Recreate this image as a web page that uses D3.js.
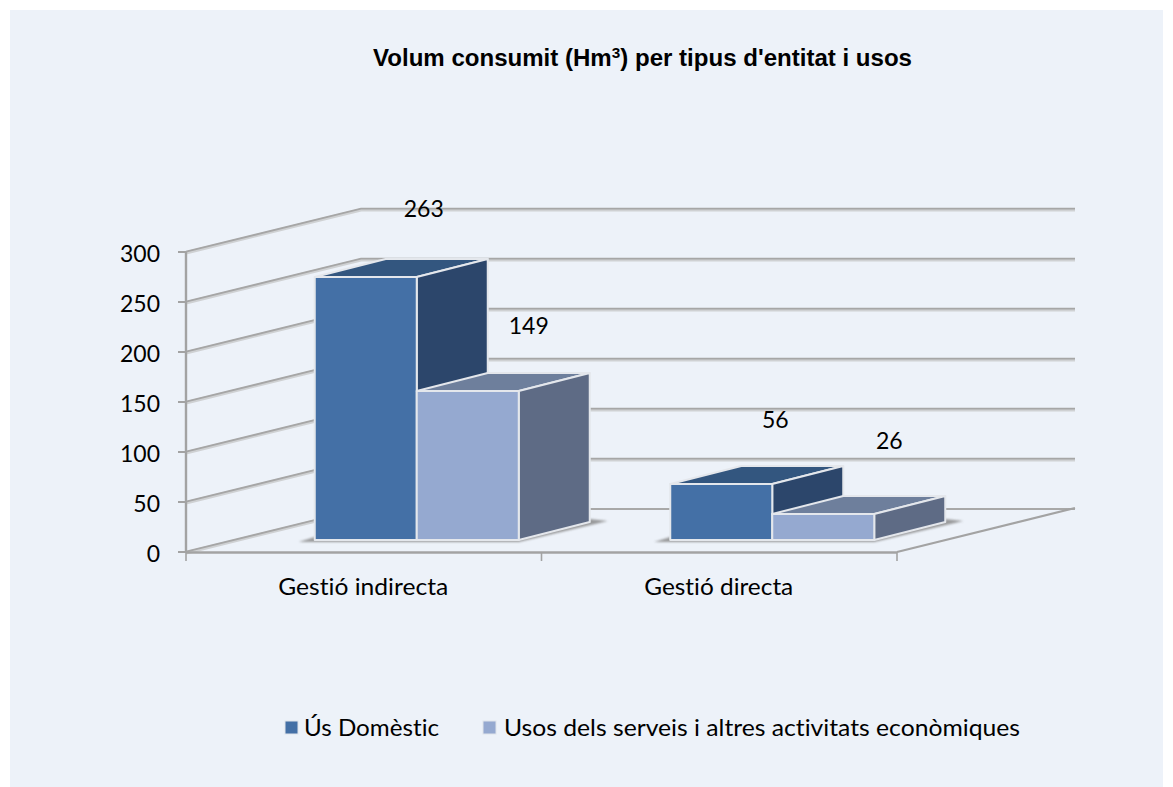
<!DOCTYPE html>
<html><head><meta charset="utf-8">
<style>html,body{margin:0;padding:0;background:#fff}svg{display:block}text{font-variant-ligatures:none}</style>
<script src="https://cdn.jsdelivr.net/npm/d3@7"></script></head>
<body><svg id="c" width="1173" height="787"></svg>
<script>
const categories = ["Gestió indirecta", "Gestió directa"];
const seriesNames = ["Ús Domèstic", "Usos dels serveis i altres activitats econòmiques"];
const usDomestic = [263, 56];
const usosServeis = [149, 26];
const yTicks = [0, 50, 100, 150, 200, 250, 300];

const bodyFont = "Lato, 'Open Sans', sans-serif";
const svg = d3.select("#c");
svg.append("rect").attr("x",10).attr("y",10).attr("width",1153).attr("height",777).attr("fill","#edf2f9");

const x0 = 186, x1 = 897, y0 = 552, y1 = 252;
const floorDX = 178, floorDY = -44, sideDX = 175, sideDY = -43;
const y = d3.scaleLinear().domain([0,300]).range([y0,y1]);
const x = d3.scaleBand().domain(categories).range([x0,x1]);
const barFront = {dx: 53, dy: -12};
const barDepth = {dx: 71, dy: -18};
const barW = 102;

// walls: grid lines
const gridG = svg.append("g").attr("fill","none");
yTicks.forEach(t=>{
  const pts = t===0
    ? `${x0},${y(t)} ${x0+sideDX},${y(t)+sideDY}`
    : `${x0},${y(t)} ${x0+sideDX},${y(t)+sideDY} ${x1+floorDX},${y(t)+sideDY}`;
  gridG.append("polyline").attr("points",pts).attr("stroke","#cfd1d3").attr("stroke-width",3.2).attr("transform","translate(0,0.9)");
  gridG.append("polyline").attr("points",pts).attr("stroke","#a6a6a6").attr("stroke-width",1.8).attr("transform","translate(0,-0.3)");
});
gridG.append("line").attr("x1",x0+sideDX).attr("x2",x1+floorDX).attr("y1",y0+sideDY).attr("y2",y0+sideDY).attr("stroke","#a8a8a8").attr("stroke-width",2.2);
// floor front + right edges, y axis
const ax = svg.append("g").attr("fill","none").attr("stroke","#a3a3a3").attr("stroke-width",2.4);
ax.append("line").attr("x1",x0).attr("x2",x0).attr("y1",y1).attr("y2",y0);
ax.append("line").attr("x1",x0).attr("x2",x1).attr("y1",y0+.5).attr("y2",y0+.5);
ax.append("line").attr("x1",x1).attr("x2",x1+floorDX).attr("y1",y0).attr("y2",y0+floorDY).attr("stroke-width",2.2);
yTicks.forEach(t=>ax.append("line").attr("x1",x0-8).attr("x2",x0).attr("y1",y(t)).attr("y2",y(t)).attr("stroke-width",2));
[x0, x0+x.bandwidth(), x1].forEach(v=>ax.append("line").attr("x1",v).attr("x2",v).attr("y1",y0).attr("y2",y0+9).attr("stroke-width",1.6));

// y labels
svg.append("g").selectAll("text").data(yTicks).join("text")
  .attr("x",160).attr("y",d=>y(d)+9.5).attr("text-anchor","end")
  .attr("font-family",bodyFont).attr("font-size",23).attr("fill","#000").text(d=>d);
// x labels
const xLabelWidth = [170, 149];
svg.append("g").selectAll("text").data(categories).join("text")
  .attr("x",d=>x(d)+x.bandwidth()/2 - 0.5).attr("y",595).attr("text-anchor","middle")
  .attr("textLength",(d,i)=>xLabelWidth[i]).attr("lengthAdjust","spacingAndGlyphs")
  .attr("font-family",bodyFont).attr("font-size",23).attr("fill","#000").text(d=>d);

// bars
const palettes = [
  {front:"#4470a6", top:"#33567f", side:"#2c466b"},
  {front:"#95a9d0", top:"#6e7f9c", side:"#5e6b85"}
];
const series = [usDomestic, usosServeis];
const defs = svg.append("defs");
const blur = defs.append("filter").attr("id","b").attr("x","-10%").attr("width","120%");
blur.append("feGaussianBlur").attr("stdDeviation",1);
const edge = "#e4e7ec";
const poly = (g,p,fill)=>g.append("polygon").attr("points",p.map(d=>d.join(",")).join(" ")).attr("fill",fill).attr("stroke",edge).attr("stroke-width",2).attr("stroke-linejoin","round");

categories.forEach((c,ci)=>{
  const g = svg.append("g");
  const left = x(c) + (x.bandwidth()-2*barW)/2 + barFront.dx;
  const base = y(0) + barFront.dy;
  // floor shadow
  g.append("polygon").attr("filter","url(#b)").attr("fill","#8a8a8a").attr("opacity",.85)
    .attr("points",[[left-16,base+2],[left+2*barW,base+2],[left+2*barW+barDepth.dx+18,base+barDepth.dy-1],[left+2*barW+barDepth.dx,base+barDepth.dy-3],[left,base-3]].map(d=>d.join(",")).join(" "));
  series.forEach((s,si)=>{
    const pal = palettes[si];
    const l = left + si*barW, r = l + barW;
    const h = y(0)-y(s[ci]);
    const t = base - h;
    poly(g,[[l,t],[r,t],[r+barDepth.dx,t+barDepth.dy],[l+barDepth.dx,t+barDepth.dy]],pal.top);
    poly(g,[[r,t],[r+barDepth.dx,t+barDepth.dy],[r+barDepth.dx,base+barDepth.dy],[r,base]],pal.side);
    poly(g,[[l,t],[r,t],[r,base],[l,base]],pal.front);
  });
});

// data labels
const labelNudge = [[[58,-60],[61,-57]],[[54,-56],[66,-65]]];
series.forEach((s,si)=>{
  categories.forEach((c,ci)=>{
    const left = x(c) + (x.bandwidth()-2*barW)/2 + barFront.dx + si*barW;
    const n = labelNudge[ci][si];
    svg.append("text").attr("x",left+barW/2+n[0]).attr("y",y(s[ci])+barFront.dy+n[1])
      .attr("text-anchor","middle").attr("font-family",bodyFont).attr("font-size",23).attr("fill","#000").text(s[ci]);
  });
});

// title
const title = svg.append("text").attr("x",373).attr("y",66).attr("font-family","'Liberation Sans', Arial, sans-serif")
  .attr("font-weight","bold").attr("font-size",23.5).attr("fill","#000")
  .attr("textLength",539).attr("lengthAdjust","spacingAndGlyphs");
title.append("tspan").text("Volum consumit (Hm");
title.append("tspan").attr("font-size",15).attr("dy",-8).text("3");
title.append("tspan").attr("dy",8).text(") per tipus d'entitat i usos");

// legend
const legendX = [285, 483], legendTextX = [304, 504], legendTextW = [135, 516];
const lg = svg.append("g");
seriesNames.forEach((n,i)=>{
  lg.append("rect").attr("x",legendX[i]).attr("y",721).attr("width",13).attr("height",13)
    .attr("fill",palettes[i].front).attr("stroke","#dfe3ea").attr("stroke-width",1);
  lg.append("text").attr("x",legendTextX[i]).attr("y",736).attr("font-family",bodyFont).attr("font-size",23).attr("fill","#000")
    .attr("textLength",legendTextW[i]).attr("lengthAdjust","spacingAndGlyphs").text(n);
});
</script></body></html>
